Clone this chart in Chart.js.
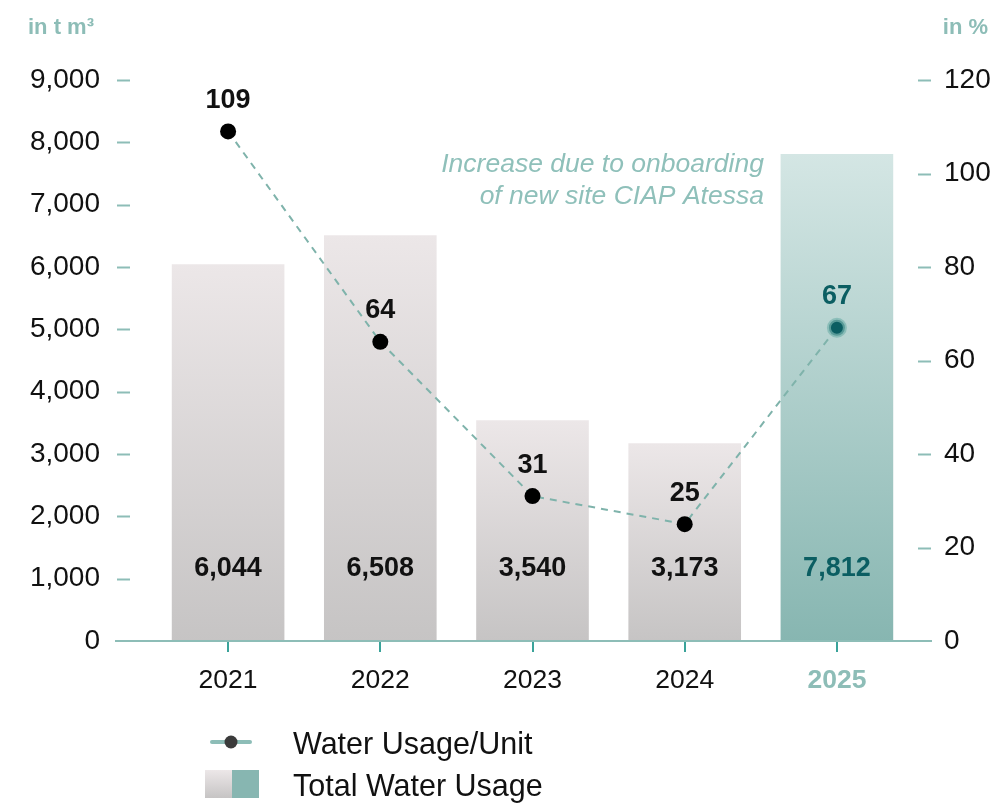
<!DOCTYPE html>
<html>
<head>
<meta charset="utf-8">
<script src="https://cdn.jsdelivr.net/npm/chart.js@4"></script>
<style>
  body { margin: 0; background: #fff; }
  canvas { display: block; }
</style>
</head>
<body>
<canvas id="waterChart" width="999" height="807"></canvas>
<script>
const years = ['2021', '2022', '2023', '2024', '2025'];
const totalUsage = [6044, 6508, 3540, 3173, 7812];
const usagePerUnit = [109, 64, 31, 25, 67];
const leftTicks = [0, 1000, 2000, 3000, 4000, 5000, 6000, 7000, 8000, 9000];
const rightTicks = [0, 20, 40, 60, 80, 100, 120];
const noteLines = ['Increase due to onboarding', 'of new site CIAP Atessa'];

const FONT = '"Liberation Sans", Arial, sans-serif';
const tealLight = '#8dbdb7';
const tealTick = '#3aa39a';
const tealDark = '#0b5e62';

function barGradient(ctx, top, bottom, highlight) {
  const g = ctx.createLinearGradient(0, top, 0, bottom);
  if (highlight) {
    g.addColorStop(0, '#d4e6e4');
    g.addColorStop(1, '#87b6b1');
  } else {
    g.addColorStop(0, '#ece7e8');
    g.addColorStop(1, '#c6c4c4');
  }
  return g;
}

const extras = {
  id: 'extras',
  afterDraw(chart) {
    const { ctx, chartArea, scales } = chart;
    const x = scales.x, y = scales.y, y1 = scales.y1;
    ctx.save();

    // extended x axis line
    ctx.strokeStyle = tealLight;
    ctx.lineWidth = 2;
    ctx.beginPath();
    ctx.moveTo(115, chartArea.bottom);
    ctx.lineTo(932, chartArea.bottom);
    ctx.stroke();

    // y tick dashes
    ctx.lineWidth = 2;
    leftTicks.forEach(v => {
      const py = Math.round(y.getPixelForValue(v)) + 0.5;
      if (v === 0) return;
      ctx.beginPath(); ctx.moveTo(117, py); ctx.lineTo(130, py); ctx.stroke();
    });
    rightTicks.forEach(v => {
      const py = Math.round(y1.getPixelForValue(v)) + 0.5;
      if (v === 0) return;
      ctx.beginPath(); ctx.moveTo(918, py); ctx.lineTo(931, py); ctx.stroke();
    });

    // unit headers
    ctx.fillStyle = tealLight;
    ctx.font = 'bold 22px ' + FONT;
    ctx.textBaseline = 'middle';
    ctx.textAlign = 'left';
    ctx.fillText('in t m\u00B3', 28, 28);
    ctx.textAlign = 'right';
    ctx.fillText('in %', 988, 28);

    // bar value labels
    ctx.textAlign = 'center';
    ctx.font = 'bold 27px ' + FONT;
    totalUsage.forEach((v, i) => {
      ctx.fillStyle = i === 4 ? tealDark : '#111';
      ctx.fillText(v.toLocaleString('en-US'), x.getPixelForValue(i), chartArea.bottom - 72);
    });

    // line value labels
    const meta = chart.getDatasetMeta(1);
    meta.data.forEach((pt, i) => {
      ctx.fillStyle = i === 4 ? tealDark : '#111';
      ctx.fillText(String(usagePerUnit[i]), pt.x, pt.y - 31);
    });

    // annotation
    ctx.font = 'italic 26.5px ' + FONT;
    ctx.fillStyle = '#8fc0ba';
    ctx.textAlign = 'right';
    const ax = x.getPixelForValue(4) - 73;
    ctx.fillText(noteLines[0], ax, chartArea.top + 85);
    ctx.fillText(noteLines[1], ax, chartArea.top + 117);

    // legend
    ctx.strokeStyle = tealLight;
    ctx.lineWidth = 4;
    ctx.lineCap = 'round';
    ctx.beginPath(); ctx.moveTo(212, 742); ctx.lineTo(250, 742); ctx.stroke();
    ctx.fillStyle = '#3b3b3b';
    ctx.beginPath(); ctx.arc(231, 742, 6.5, 0, Math.PI * 2); ctx.fill();
    ctx.fillStyle = barGradient(ctx, 770, 798, false);
    ctx.fillRect(205, 770, 27, 28);
    ctx.fillStyle = '#87b6b1';
    ctx.fillRect(232, 770, 27, 28);
    ctx.fillStyle = '#111';
    ctx.font = '30.5px ' + FONT;
    ctx.textAlign = 'left';
    ctx.fillText('Water Usage/Unit', 293, 746);
    ctx.fillText('Total Water Usage', 293, 788);

    ctx.restore();
  }
};

new Chart(document.getElementById('waterChart').getContext('2d'), {
  data: {
    labels: years,
    datasets: [
      {
        type: 'bar',
        label: 'Total Water Usage',
        data: totalUsage,
        yAxisID: 'y',
        order: 1,
        barPercentage: 0.74,
        categoryPercentage: 1,
        backgroundColor: (c) => {
          const { ctx, chartArea, scales } = c.chart;
          if (!chartArea) return '#ddd';
          const top = scales.y.getPixelForValue(totalUsage[c.dataIndex]);
          const bottom = scales.y.getPixelForValue(0);
          return barGradient(ctx, top, bottom, c.dataIndex === 4);
        },
      },
      {
        type: 'line',
        label: 'Water Usage/Unit',
        data: usagePerUnit,
        yAxisID: 'y1',
        order: 0,
        borderColor: '#7fb3ab',
        borderWidth: 2,
        borderDash: [7, 6],
        fill: false,
        tension: 0,
        pointRadius: 8,
        pointHoverRadius: 8,
        pointBackgroundColor: ['#000', '#000', '#000', '#000', tealDark],
        pointBorderColor: ['#000', '#000', '#000', '#000', 'rgba(120,180,174,0.7)'],
        pointBorderWidth: [0, 0, 0, 0, 4],
      },
    ],
  },
  options: {
    responsive: false,
    animation: false,
    devicePixelRatio: 1,
    layout: { padding: { top: 80, left: 0, right: 0, bottom: 0 } },
    plugins: {
      legend: { display: false },
      tooltip: { enabled: false },
    },
    scales: {
      x: {
        afterFit: (s) => { s.height = 166; },
        grid: {
          offset: false,
          drawOnChartArea: false,
          drawTicks: true,
          tickLength: 11,
          lineWidth: 2,
          color: tealTick,
        },
        border: { display: false },
        ticks: {
          padding: 13,
          color: (c) => (c.index === 4 ? tealLight : '#111'),
          font: (c) => ({ family: FONT, size: 26.5, weight: c.index === 4 ? 'bold' : 'normal' }),
        },
      },
      y: {
        position: 'left',
        min: 0,
        max: 9000,
        afterFit: (s) => { s.width = 152; },
        afterBuildTicks: (s) => { s.ticks = leftTicks.map(v => ({ value: v })); },
        grid: { display: false, drawTicks: false },
        border: { display: false },
        ticks: {
          padding: 52,
          color: '#111',
          font: { family: FONT, size: 28 },
          callback: (v) => v.toLocaleString('en-US'),
        },
      },
      y1: {
        position: 'right',
        min: 0,
        max: 120,
        afterFit: (s) => { s.width = 86; },
        afterBuildTicks: (s) => { s.ticks = rightTicks.map(v => ({ value: v })); },
        grid: { display: false, drawTicks: false },
        border: { display: false },
        ticks: {
          padding: 31,
          color: '#111',
          font: { family: FONT, size: 28 },
        },
      },
    },
  },
  plugins: [extras],
});
</script>
</body>
</html>
